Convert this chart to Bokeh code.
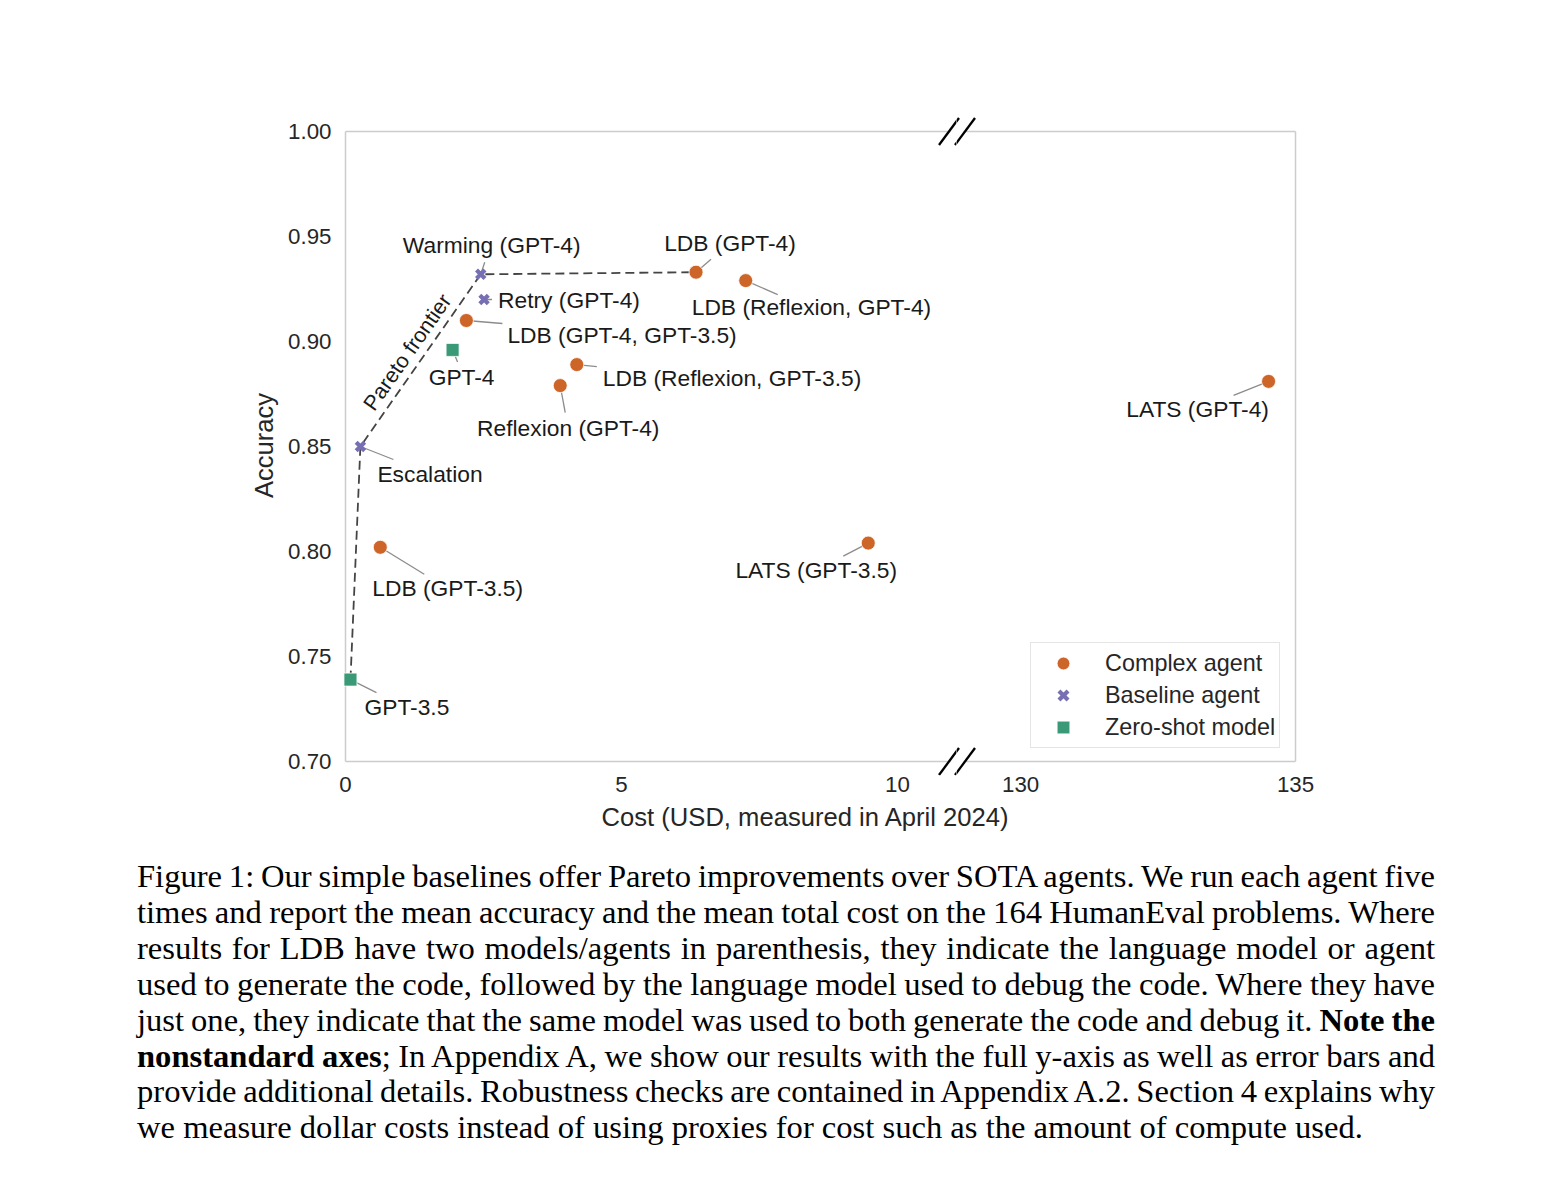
import math
from bokeh.plotting import figure
from bokeh.models import (Label, Legend, LegendItem, FixedTicker, PrintfTickFormatter,
                          Range1d, Div)
from bokeh.layouts import row, column
from bokeh.embed import file_html
from bokeh.resources import INLINE

# ---------------- data ----------------
names = ["GPT-3.5", "GPT-4", "Escalation", "Warming (GPT-4)", "Retry (GPT-4)",
         "LDB (GPT-3.5)", "LDB (GPT-4, GPT-3.5)", "Reflexion (GPT-4)",
         "LDB (Reflexion, GPT-3.5)", "LDB (GPT-4)", "LDB (Reflexion, GPT-4)",
         "LATS (GPT-3.5)", "LATS (GPT-4)"]
cost = [0.09, 1.94, 0.27, 2.45, 2.51, 0.63, 2.19, 3.89, 4.19, 6.35, 7.25, 9.47, 134.51]
accuracy = [0.739, 0.896, 0.850, 0.932, 0.920, 0.802, 0.910, 0.879, 0.889, 0.933, 0.929, 0.804, 0.881]
kind = ["Zero-shot model", "Zero-shot model", "Baseline agent", "Baseline agent", "Baseline agent",
        "Complex agent", "Complex agent", "Complex agent", "Complex agent", "Complex agent",
        "Complex agent", "Complex agent", "Complex agent"]
kinds = ["Complex agent", "Baseline agent", "Zero-shot model"]
pareto = ["GPT-3.5", "Escalation", "Warming (GPT-4)", "LDB (GPT-4)"]
x_limits_left = (0.0, 10.96)
x_limits_right = (128.96, 135.0)
y_limits = (0.70, 1.00)
x_ticks_left = [0, 5, 10]
x_ticks_right = [130, 135]
y_ticks = [0.70, 0.75, 0.80, 0.85, 0.90, 0.95, 1.00]
x_label = "Cost (USD, measured in April 2024)"
y_label = "Accuracy"
pareto_label = "Pareto frontier"

caption_lines = [
    "Figure 1: Our simple baselines offer Pareto improvements over SOTA agents. We run each agent five",
    "times and report the mean accuracy and the mean total cost on the 164 HumanEval problems. Where",
    "results for LDB have two models/agents in parenthesis, they indicate the language model or agent",
    "used to generate the code, followed by the language model used to debug the code. Where they have",
    "just one, they indicate that the same model was used to both generate the code and debug it. <b>Note the</b>",
    "<b>nonstandard axes</b>; In Appendix A, we show our results with the full y-axis as well as error bars and",
    "provide additional details. Robustness checks are contained in Appendix A.2. Section 4 explains why",
    "we measure dollar costs instead of using proxies for cost such as the amount of compute used.",
]

# ---------------- styles / layout ----------------
FONT = "Liberation Sans"
TXT = "#262626"
SPINE = "#cccccc"
style = {
    "Complex agent": dict(marker="circle", size=14, fill_color="#cd6428", line_color="white", line_width=0.8),
    "Baseline agent": dict(marker="x", size=12, line_color="#7670b3", line_width=4.2),
    "Zero-shot model": dict(marker="square", size=13, fill_color="#3a9a78", line_color="white", line_width=0.8),
}
# annotation placement in screen pixels: (text dx, text dy(up), align, leader dx, leader dy(up))
ann = {
    "GPT-3.5": (14, -27, "left", 26, -13),
    "Escalation": (17, -27, "left", 33, -13),
    "LDB (GPT-3.5)": (-8, -41, "left", 44, -27),
    "GPT-4": (9, -27, "center", 5, -12),
    "LDB (GPT-4, GPT-3.5)": (41, -14, "left", 36, -3),
    "Warming (GPT-4)": (11, 29, "center", 4, 12),
    "Retry (GPT-4)": (14, 0, "left", 8, 0),
    "Reflexion (GPT-4)": (8, -42, "center", 5, -27),
    "LDB (Reflexion, GPT-3.5)": (26, -13, "left", 20, -2),
    "LDB (GPT-4)": (34, 29, "center", 15, 13),
    "LDB (Reflexion, GPT-4)": (-54, -26, "left", 32, -14),
    "LATS (GPT-3.5)": (-52, -27, "center", -25, -13),
    "LATS (GPT-4)": (-71, -28, "center", -35, -14),
}

# pixel geometry
AXW_L, AXW_R, AXH = 605, 332, 630          # spine extents in px
PAD_T, PAD_B = 16, 14                      # frame padding beyond spines (for break marks)
PAD_LL, PAD_LR = 3, 6                      # left panel
PAD_RL, PAD_RR = 7, 3                      # right panel
BORDER_LEFT, BORDER_TOP, BORDER_BOTTOM = 342, 115, 40

sxL = (x_limits_left[1] - x_limits_left[0]) / AXW_L
sxR = (x_limits_right[1] - x_limits_right[0]) / AXW_R
sy = (y_limits[1] - y_limits[0]) / AXH

yr = Range1d(y_limits[0] - PAD_B * sy, y_limits[1] + PAD_T * sy)


def make_fig(lim, sx, padl, padr, axw, bl, br, yloc):
    p = figure(x_range=Range1d(lim[0] - padl * sx, lim[1] + padr * sx), y_range=yr,
               frame_width=axw + padl + padr, frame_height=AXH + PAD_T + PAD_B,
               output_backend="svg", toolbar_location=None, min_border=0,
               min_border_left=bl, min_border_right=br, min_border_top=BORDER_TOP,
               min_border_bottom=BORDER_BOTTOM, y_axis_location=yloc)
    p.outline_line_color = None
    p.grid.visible = False
    p.background_fill_color = "white"
    p.border_fill_color = "white"
    for ax in p.axis:
        ax.axis_line_color = None
        ax.major_tick_out = 0
        ax.major_tick_in = 0
        ax.minor_tick_out = 0
        ax.minor_tick_in = 0
        ax.major_label_text_font = FONT
        ax.major_label_text_font_size = "22.3px"
        ax.major_label_text_color = TXT
    p.xaxis.major_label_standoff = 1
    return p


pL = make_fig(x_limits_left, sxL, PAD_LL, PAD_LR, AXW_L, BORDER_LEFT, 0, "left")
pR = make_fig(x_limits_right, sxR, PAD_RL, PAD_RR, AXW_R, 0, 40, None)

pL.xaxis.ticker = FixedTicker(ticks=x_ticks_left)
pR.xaxis.ticker = FixedTicker(ticks=x_ticks_right)
pL.yaxis.ticker = FixedTicker(ticks=y_ticks)
pL.yaxis.formatter = PrintfTickFormatter(format="%.2f")
pL.yaxis.major_label_standoff = 11
pL.yaxis.axis_label = y_label
pL.yaxis.axis_label_text_font = FONT
pL.yaxis.axis_label_text_font_size = "25.5px"
pL.yaxis.axis_label_text_font_style = "normal"
pL.yaxis.axis_label_text_color = TXT
pL.yaxis.axis_label_standoff = 7

# spines (drawn as segments so the broken-axis gap stays open)
y0, y1 = y_limits
xl0, xl1 = x_limits_left
xr0, xr1 = x_limits_right
pL.segment(x0=[xl0, xl0, xl0], y0=[y0, y1, y0], x1=[xl1, xl1, xl0], y1=[y0, y1, y1],
           line_color=SPINE, line_width=1.5)
pR.segment(x0=[xr0, xr0, xr1], y0=[y0, y1, y0], x1=[xr1, xr1, xr1], y1=[y0, y1, y1],
           line_color=SPINE, line_width=1.5)

# axis break marks (two slashes at top and bottom of the gap)
def add_breaks(p, anchor, sx, centers_px):
    bx0, by0, bx1, by1 = [], [], [], []
    for yb in y_limits:
        for c in centers_px:
            xc = anchor + c * sx
            bx0.append(xc - 10 * sx); by0.append(yb - 13.5 * sy)
            bx1.append(xc + 10 * sx); by1.append(yb + 13.5 * sy)
    p.segment(x0=bx0, y0=by0, x1=bx1, y1=by1, line_color="black", line_width=2.3)

add_breaks(pL, xl1, sxL, (-1.5, 14.5))
add_breaks(pR, xr0, sxR, (-14.5, 1.5))

idx = {n: i for i, n in enumerate(names)}

# leader lines
for p, sx, right in ((pL, sxL, False), (pR, sxR, True)):
    a0, b0, a1, b1 = [], [], [], []
    for n, c, a in zip(names, cost, accuracy):
        if (c >= 100) != right:
            continue
        _, _, _, lx, ly = ann[n]
        a0.append(c); b0.append(a); a1.append(c + lx * sx); b1.append(a + ly * sy)
    p.segment(x0=a0, y0=b0, x1=a1, y1=b1, line_color="#8c8c8c", line_width=1.3)

# Pareto frontier
pL.line([cost[idx[n]] for n in pareto], [accuracy[idx[n]] for n in pareto],
        line_color="#444444", line_width=1.8, line_dash="9 5")

# markers
renderers = {}
for p in (pL, pR):
    for k in kinds:
        xs = [c for c, kk in zip(cost, kind) if kk == k]
        ys = [a for a, kk in zip(accuracy, kind) if kk == k]
        r = p.scatter(xs, ys, **style[k])
        if p is pR:
            renderers[k] = r

# text labels
for n, c, a in zip(names, cost, accuracy):
    dx, dy, al, _, _ = ann[n]
    p = pR if c >= 100 else pL
    p.add_layout(Label(x=c, y=a, text=n, x_offset=dx, y_offset=dy, text_align=al,
                       text_baseline="middle", text_font=FONT, text_font_size="22.8px",
                       text_color="#1a1a1a"))

# Pareto label along the frontier
e, w = idx["Escalation"], idx["Warming (GPT-4)"]
ang = math.atan2((accuracy[w] - accuracy[e]) / sy, (cost[w] - cost[e]) / sxL)
pL.add_layout(Label(x=(cost[e] + cost[w]) / 2, y=(accuracy[e] + accuracy[w]) / 2,
                    x_offset=-13, y_offset=8, text=pareto_label, angle=ang,
                    text_align="center", text_baseline="middle", text_font=FONT,
                    text_font_size="21.5px", text_color="#1a1a1a"))

# legend
legend = Legend(items=[LegendItem(label=k, renderers=[renderers[k]]) for k in kinds],
                location=(74, 27), margin=0, padding=4, spacing=0,
                glyph_width=56, glyph_height=32, label_standoff=14,
                label_text_font=FONT, label_text_font_size="23.4px", label_text_color=TXT,
                border_line_color=SPINE, border_line_width=1.3,
                background_fill_color="white", background_fill_alpha=0.85)
pR.add_layout(legend)

xdiv = Div(text=x_label, width=600, height=44, margin=(0, 0, 0, 505),
           styles={"text-align": "center", "font-family": FONT, "font-size": "25.6px",
                   "line-height": "4px", "color": TXT})

parts = []
for i, ln in enumerate(caption_lines):
    if i < len(caption_lines) - 1:
        extra = "text-align-last:justify;word-spacing:-2px;"
    else:
        extra = "text-align-last:left;"
    parts.append('<div style="width:1298px;white-space:nowrap;text-align:justify;'
                 + extra + '">' + ln + '</div>')
cap = Div(text="".join(parts), width=1298, height=300, margin=(0, 0, 0, 137),
          styles={"font-family": "Liberation Serif", "font-size": "32.6px",
                  "line-height": "35.9px", "color": "black"})

layout = column(row(pL, pR), xdiv, cap)
open("out.html", "w").write(file_html(layout, INLINE))
